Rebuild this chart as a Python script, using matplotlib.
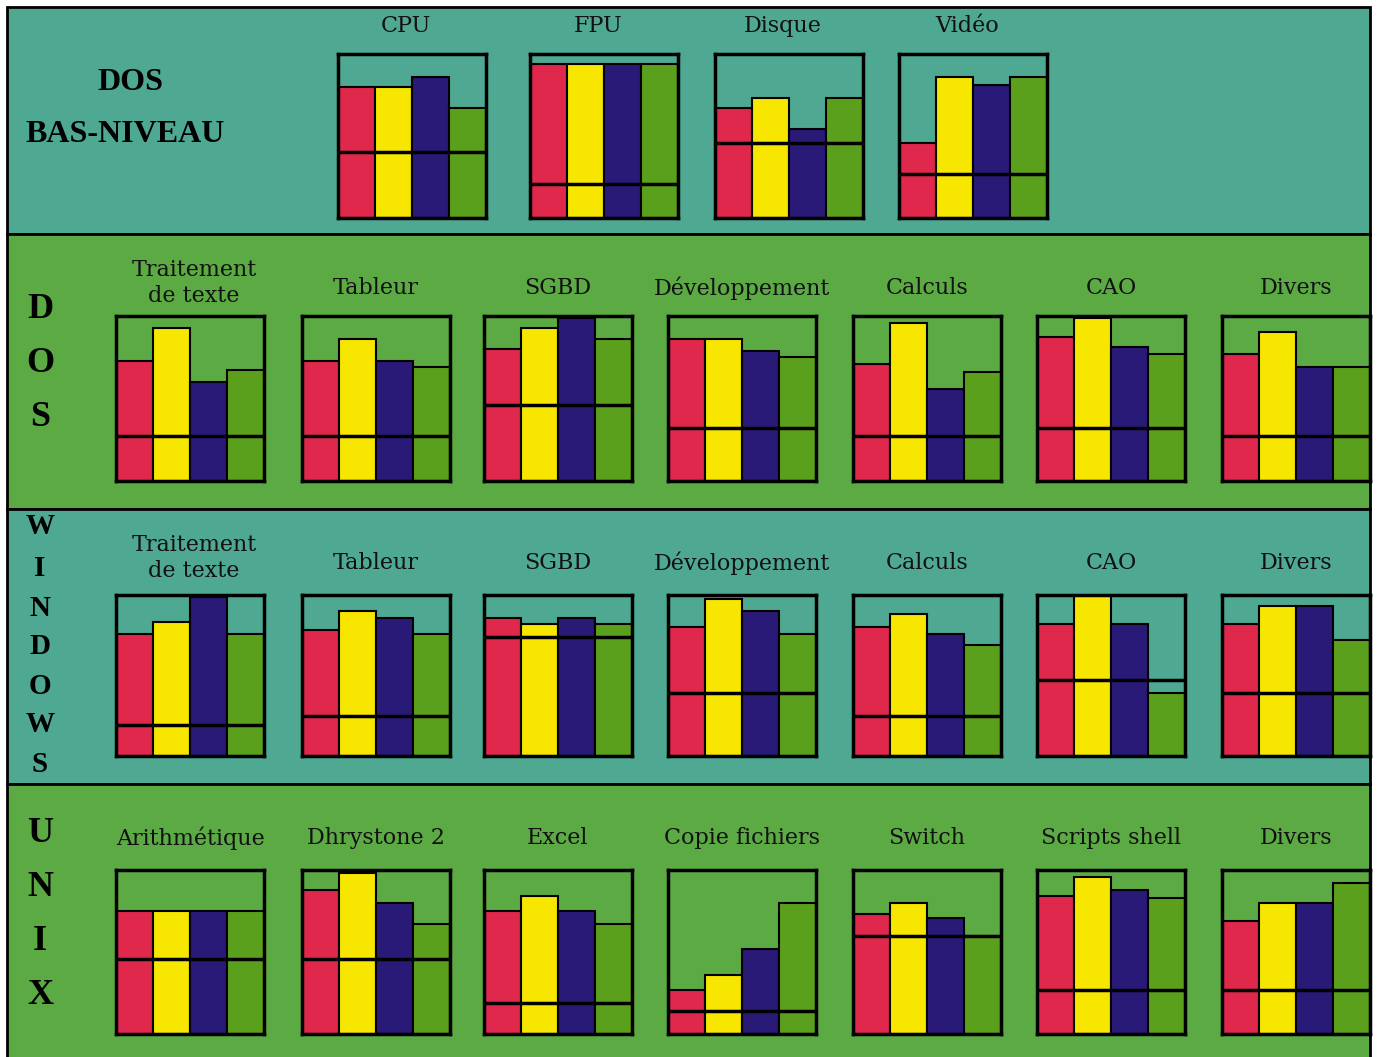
import matplotlib
matplotlib.use('Agg')
import matplotlib.pyplot as plt
from matplotlib.patches import Rectangle

# ---- data (bar heights and reference level, as fraction of each panel's scale) ----
dos_bas_titles = ['CPU', 'FPU', 'Disque', 'Vidéo']
dos_bas_ref = [0.40, 0.21, 0.46, 0.27]
dos_bas_bars = [
    [0.80, 0.80, 0.86, 0.67],
    [0.94, 0.94, 0.94, 0.94],
    [0.67, 0.73, 0.54, 0.73],
    [0.46, 0.86, 0.81, 0.86],
]

app_titles = ['Traitement\nde texte', 'Tableur', 'SGBD', 'Développement', 'Calculs', 'CAO', 'Divers']

dos_ref = [0.27, 0.27, 0.46, 0.32, 0.27, 0.32, 0.27]
dos_bars = [
    [0.73, 0.93, 0.60, 0.67],
    [0.73, 0.86, 0.73, 0.69],
    [0.80, 0.93, 0.99, 0.86],
    [0.86, 0.86, 0.79, 0.75],
    [0.71, 0.96, 0.56, 0.66],
    [0.87, 0.99, 0.81, 0.77],
    [0.77, 0.90, 0.69, 0.69],
]

win_ref = [0.19, 0.25, 0.74, 0.39, 0.25, 0.47, 0.39]
win_bars = [
    [0.76, 0.83, 0.99, 0.76],
    [0.78, 0.90, 0.86, 0.76],
    [0.86, 0.82, 0.86, 0.82],
    [0.80, 0.975, 0.90, 0.76],
    [0.80, 0.88, 0.76, 0.69],
    [0.82, 1.01, 0.82, 0.39],
    [0.82, 0.93, 0.93, 0.72],
]

unix_titles = ['Arithmétique', 'Dhrystone 2', 'Excel', 'Copie fichiers', 'Switch', 'Scripts shell', 'Divers']
unix_ref = [0.46, 0.46, 0.19, 0.14, 0.60, 0.27, 0.27]
unix_bars = [
    [0.75, 0.75, 0.75, 0.75],
    [0.88, 0.98, 0.80, 0.67],
    [0.75, 0.84, 0.75, 0.67],
    [0.27, 0.36, 0.52, 0.80],
    [0.73, 0.80, 0.71, 0.60],
    [0.84, 0.96, 0.88, 0.83],
    [0.69, 0.80, 0.80, 0.92],
]

bar_colors = ['#E0284C', '#F6E600', '#2A1A78', '#5BA01C']
teal = '#4FA892'
green = '#5CAA44'

W, H = 1380, 1057
fig = plt.figure(figsize=(W / 100, H / 100), dpi=100)
fig.patch.set_facecolor('white')

# background axes in pixel coordinates
bg = fig.add_axes([0, 0, 1, 1])
bg.set_xlim(0, W)
bg.set_ylim(H, 0)
bg.axis('off')

bands = [(7, 234, teal), (234, 509, green), (509, 784, teal), (784, 1060, green)]
for y0, y1, c in bands:
    bg.add_patch(Rectangle((7, y0), 1363, y1 - y0, facecolor=c, edgecolor='black', linewidth=2))

serif = ['Liberation Serif', 'DejaVu Serif']
title_font = dict(family=['DejaVu Serif'], fontsize=16, ha='center', va='center', color='#111111')


def add_panel(left, top, width, height, bars, ref):
    ax = fig.add_axes([left / W, 1 - (top + height) / H, width / W, height / H])
    ax.patch.set_alpha(0)
    ax.bar(range(4), bars, width=1.0, color=bar_colors, edgecolor='black', linewidth=1.5, zorder=2)
    ax.axhline(ref, color='black', linewidth=2.5, zorder=3)
    ax.set_xlim(-0.5, 3.5)
    ax.set_ylim(0, 1)
    ax.set_xticks([])
    ax.set_yticks([])
    for s in ax.spines.values():
        s.set_linewidth(2.5)
        s.set_zorder(4)
    return ax


# row 1 : DOS bas-niveau
row1_left = [338, 530, 715, 899]
for i, t in enumerate(dos_bas_titles):
    add_panel(row1_left[i], 54, 148, 164, dos_bas_bars[i], dos_bas_ref[i])
    bg.text(row1_left[i] + 68, 26, t, **title_font)

bg.text(130, 82, 'DOS', family=serif, fontsize=23, fontweight='bold', ha='center', va='center')
bg.text(125, 135, 'BAS-NIVEAU', family=serif, fontsize=23, fontweight='bold', ha='center', va='center')

# rows 2-4
col_left = [116, 302, 484, 668, 853, 1037, 1222]
rows = [
    (316, 165, app_titles, dos_bars, dos_ref, 288),
    (595, 161, app_titles, win_bars, win_ref, 563),
    (870, 164, unix_titles, unix_bars, unix_ref, 838),
]
for top, h, titles, bars, refs, ty in rows:
    for i, t in enumerate(titles):
        add_panel(col_left[i], top, 148, h, bars[i], refs[i])
        if '\n' in t:
            bg.text(col_left[i] + 78, ty - 5, t, linespacing=1.2, **title_font)
        else:
            bg.text(col_left[i] + 74, ty, t, **title_font)

# vertical row labels
side_font = dict(family=serif, ha='center', va='center', fontweight='bold')
for ch, y in zip('DOS', [310, 364, 418]):
    bg.text(40, y, ch, fontsize=26, **side_font)
for ch, y in zip('WINDOWS', [527, 568, 608, 647, 686, 725, 765]):
    bg.text(40, y, ch, fontsize=21, **side_font)
for ch, y in zip('UNIX', [833, 887, 941, 995]):
    bg.text(40, y, ch, fontsize=26, **side_font)

fig.savefig('out.png', dpi=100)
